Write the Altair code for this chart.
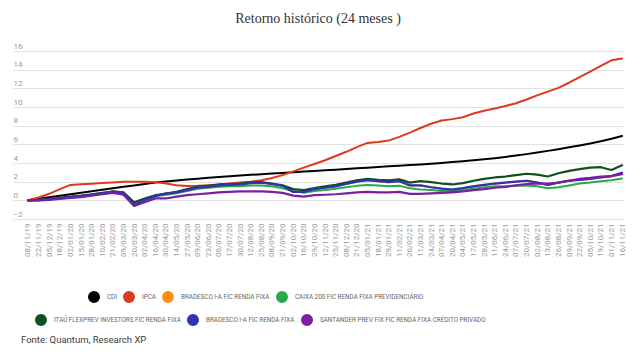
import altair as alt
import pandas as pd

DATES = ["08/11/19", "22/11/19", "05/12/19", "18/12/19", "02/01/20", "15/01/20", "28/01/20",
         "10/02/20", "21/02/20", "09/03/20", "20/03/20", "02/04/20", "16/04/20", "30/04/20",
         "14/05/20", "27/05/20", "09/06/20", "23/06/20", "06/07/20", "17/07/20", "30/07/20",
         "12/08/20", "25/08/20", "08/09/20", "21/09/20", "02/10/20", "16/10/20", "29/10/20",
         "12/11/20", "25/11/20", "08/12/20", "21/12/20", "05/01/21", "18/01/21", "29/01/21",
         "11/02/21", "26/02/21", "11/03/21", "24/03/21", "07/04/21", "20/04/21", "04/05/21",
         "17/05/21", "28/05/21", "11/06/21", "24/06/21", "07/07/21", "20/07/21", "02/08/21",
         "13/08/21", "26/08/21", "09/09/21", "22/09/21", "05/10/21", "19/10/21", "01/11/21",
         "16/11/21"]

CDI = [0, 0.17, 0.34, 0.5, 0.66, 0.82, 0.98, 1.14, 1.3, 1.45, 1.6, 1.75, 1.9, 2.02, 2.13,
       2.23, 2.32, 2.41, 2.5, 2.58, 2.66, 2.73, 2.8, 2.87, 2.94, 3.01, 3.08, 3.15, 3.22, 3.29,
       3.36, 3.43, 3.5, 3.57, 3.64, 3.71, 3.78, 3.85, 3.93, 4.01, 4.1, 4.2, 4.3, 4.4, 4.52,
       4.65, 4.8, 4.95, 5.12, 5.3, 5.48, 5.68, 5.88, 6.1, 6.33, 6.6, 6.9]

IPCA = [0, 0.3, 0.7, 1.2, 1.65, 1.72, 1.78, 1.85, 1.92, 1.98, 2.0, 2.0, 1.95, 1.8, 1.62,
        1.53, 1.55, 1.62, 1.7, 1.8, 1.9, 2.0, 2.15, 2.4, 2.7, 3.1, 3.5, 3.9, 4.3, 4.75, 5.2,
        5.7, 6.15, 6.25, 6.4, 6.8, 7.25, 7.75, 8.2, 8.55, 8.7, 8.9, 9.3, 9.6, 9.85, 10.1,
        10.4, 10.8, 11.25, 11.65, 12.05, 12.6, 13.2, 13.8, 14.4, 15.0, 15.2]

ITAU = [0, 0.05, 0.15, 0.3, 0.4, 0.5, 0.65, 0.8, 0.95, 0.85, -0.2, 0.2, 0.55, 0.7, 0.9,
        1.2, 1.45, 1.55, 1.7, 1.75, 1.8, 1.95, 1.95, 1.8, 1.6, 1.2, 1.1, 1.3, 1.5, 1.65, 1.9,
        2.15, 2.3, 2.2, 2.15, 2.25, 1.9, 2.05, 1.95, 1.8, 1.7, 1.85, 2.1, 2.3, 2.45, 2.55,
        2.7, 2.85, 2.75, 2.55, 2.9, 3.15, 3.35, 3.5, 3.55, 3.25, 3.75]

BRADESCO = [0, 0.03, 0.12, 0.25, 0.35, 0.45, 0.6, 0.75, 0.95, 0.8, -0.5, 0.0, 0.45, 0.75,
            0.85, 1.1, 1.35, 1.45, 1.6, 1.65, 1.7, 1.85, 1.9, 1.75, 1.55, 0.9, 0.9, 1.2, 1.35,
            1.5, 1.75, 2.0, 2.15, 2.05, 1.95, 2.05, 1.6, 1.6, 1.4, 1.25, 1.15, 1.3, 1.5, 1.65,
            1.8, 1.9, 2.0, 2.1, 1.9, 1.65, 1.9, 2.1, 2.2, 2.3, 2.45, 2.6, 2.95]

CAIXA = [0, 0.02, 0.1, 0.2, 0.3, 0.4, 0.55, 0.7, 0.9, 0.75, -0.3, 0.1, 0.45, 0.6, 0.75,
         1.0, 1.25, 1.35, 1.45, 1.5, 1.5, 1.6, 1.6, 1.5, 1.3, 1.0, 0.8, 1.0, 1.1, 1.25, 1.4,
         1.55, 1.65, 1.6, 1.5, 1.55, 1.3, 1.15, 1.1, 1.0, 1.0, 1.1, 1.25, 1.4, 1.5, 1.5, 1.55,
         1.6, 1.5, 1.3, 1.4, 1.6, 1.8, 1.9, 2.05, 2.15, 2.35]

SANTANDER = [0, 0.0, 0.05, 0.15, 0.25, 0.35, 0.5, 0.65, 0.8, 0.6, -0.6, -0.2, 0.2, 0.2,
             0.4, 0.55, 0.65, 0.75, 0.85, 0.9, 0.95, 0.95, 0.95, 0.9, 0.8, 0.5, 0.4, 0.55,
             0.6, 0.65, 0.75, 0.85, 0.9, 0.85, 0.85, 0.9, 0.7, 0.7, 0.75, 0.8, 0.85, 0.95,
             1.1, 1.2, 1.35, 1.45, 1.6, 1.75, 1.8, 1.8, 1.9, 2.1, 2.3, 2.4, 2.55, 2.6, 2.8]

NAMES_1 = ["CDI", "IPCA", "BRADESCO I-A FIC RENDA FIXA", "CAIXA 200 FIC RENDA FIXA PREVIDENCIÁRIO"]
VALUES_1 = [CDI, IPCA, BRADESCO, CAIXA]
COLORS_1 = ["#000000", "#dc3a1c", "#ff8f12", "#27ab48"]

NAMES_2 = ["ITAÚ FLEXPREV INVESTORS FIC RENDA FIXA", "BRADESCO I-A FIC RENDA FIXA",
           "SANTANDER PREV FIX FIC RENDA FIXA CRÉDITO PRIVADO"]
VALUES_2 = [ITAU, BRADESCO, SANTANDER]
COLORS_2 = ["#10501f", "#3232b8", "#7b1fa2"]

TITLE = "Retorno histórico (24 meses )"
FOOTER = "Fonte: Quantum, Research XP"
Y_TICKS = [-2, 0, 2, 4, 6, 8, 10, 12, 14, 16]


def long_table(names, values):
    rows = []
    for name, vals in zip(names, values):
        for i, v in enumerate(vals):
            rows.append({"i": i, "valor": v, "serie": name})
    return pd.DataFrame(rows)


df1 = long_table(NAMES_1, VALUES_1)
df2 = long_table(NAMES_2, VALUES_2)

label_expr = "[" + ",".join("'" + d + "'" for d in DATES) + "][datum.value]"

x_enc = alt.X(
    "i:Q",
    scale=alt.Scale(domain=[-1.414, 56.09], nice=False, zero=False),
    axis=alt.Axis(values=list(range(len(DATES))), labelExpr=label_expr, labelAngle=-90,
                  labelFlush=False, labelOverlap=False, labelBound=False, grid=False,
                  domain=False, ticks=False, tickSize=0, labelPadding=4, labelFontSize=8,
                  labelFont="Roboto", labelColor="#9a9a9a", title=None),
)
y_enc = alt.Y(
    "valor:Q",
    scale=alt.Scale(domain=[-2, 16], nice=False, zero=False),
    axis=alt.Axis(values=Y_TICKS, grid=True, gridColor="#e2e2e2", gridWidth=1.2,
                  domain=False, ticks=False, tickSize=0, labelAlign="left",
                  labelBaseline="alphabetic", labelPadding=0, labelOffset=-3,
                  labelFontSize=8, labelFont="Roboto", labelColor="#9a9a9a",
                  labelOverlap=False, title=None),
)


def legend(x, y):
    return alt.Legend(orient="none", legendX=x, legendY=y, direction="horizontal",
                      title=None, symbolType="circle", symbolSize=36, symbolStrokeWidth=6,
                      symbolOpacity=1, labelFont="Roboto", labelFontSize=6.3,
                      labelColor="#666666", labelOffset=7, labelLimit=400,
                      columnPadding=-3, padding=0)


lines1 = alt.Chart(df1).mark_line(strokeWidth=2, strokeJoin="round", strokeCap="round").encode(
    x=x_enc, y=y_enc,
    color=alt.Color("serie:N", scale=alt.Scale(domain=NAMES_1, range=COLORS_1),
                    legend=legend(75, 240)),
    order=alt.Order("i:Q"),
)
lines2 = alt.Chart(df2).mark_line(strokeWidth=2.2, strokeJoin="round", strokeCap="round").encode(
    x=x_enc, y=y_enc,
    color=alt.Color("serie:N", scale=alt.Scale(domain=NAMES_2, range=COLORS_2),
                    legend=legend(22, 263)),
    order=alt.Order("i:Q"),
)
footer = alt.Chart(pd.DataFrame({"t": [FOOTER]})).mark_text(
    align="left", baseline="middle", font="Roboto", fontSize=9.5, color="#3a3a3a"
).encode(text="t:N", x=alt.value(8), y=alt.value(289))

chart = alt.layer(lines1, lines2, footer).resolve_scale(color="independent").properties(
    width=610, height=168,
    padding={"left": 13, "top": 51, "right": 17, "bottom": 133},
    autosize=alt.AutoSizeParams(type="none"),
    title=alt.Title(TITLE, font="Liberation Serif", fontSize=14, fontWeight="normal",
                    color="#333333", anchor="middle", frame="group", baseline="alphabetic",
                    offset=5),
).configure_view(stroke=None)

chart.save("out.html", embed_options={"renderer": "svg", "actions": False})
